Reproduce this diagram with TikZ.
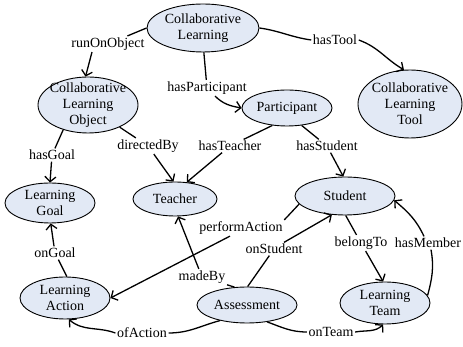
\documentclass[tikz,border=0pt]{standalone}
\usepackage{fontspec}
\setmainfont{Liberation Serif}
\usetikzlibrary{shapes.geometric,arrows.meta}
\definecolor{classfill}{RGB}{226,233,245}
\begin{document}
\begin{tikzpicture}[x=1pt,y=1pt,
  txt/.style={font=\fontsize{14}{16}\selectfont},
  cls/.style={ellipse,draw=black,line width=0.9pt,fill=classfill,inner sep=0pt},
  clstext/.style={txt,align=center,inner sep=0pt},
  rel/.style={txt,inner sep=1.5pt},
  link/.style={line width=1.3pt},
  arr/.style={link,-{Straight Barb[length=5pt,width=11pt,line width=1.3pt]}}]
\useasboundingbox (0,0) rectangle (463,347);

% classes
\node[cls,minimum width=112pt,minimum height=48pt,label={[clstext]center:Collaborative\\Learning}] (CL) at (203,319) {};
\node[cls,minimum width=100pt,minimum height=56pt,label={[clstext]center:Collaborative\\Learning\\Object}] (CLO) at (88,242) {};
\node[cls,minimum width=90pt,minimum height=36pt,label={[clstext]center:Participant}] (Part) at (287,239) {};
\node[cls,minimum width=104pt,minimum height=68pt,label={[clstext]center:Collaborative\\Learning\\Tool}] (CLT) at (410,243) {};
\node[cls,minimum width=90pt,minimum height=40pt,label={[clstext]center:Learning\\Goal}] (LG) at (50,144) {};
\node[cls,minimum width=84pt,minimum height=34pt,label={[clstext]center:Teacher}] (Teacher) at (175,148) {};
\node[cls,minimum width=100pt,minimum height=38pt,label={[clstext]center:Student}] (Student) at (345,151) {};
\node[cls,minimum width=90pt,minimum height=42pt,label={[clstext]center:Learning\\Action}] (LA) at (65,49) {};
\node[cls,minimum width=100pt,minimum height=36pt,label={[clstext]center:Assessment}] (Assess) at (247,42) {};
\node[cls,minimum width=90pt,minimum height=42pt,label={[clstext]center:Learning\\Team}] (LT) at (385,44) {};

% relation labels
\node[rel] (roo) at (108,303) {runOnObject};
\node[rel] (hp) at (207,259) {hasParticipant};
\node[rel] (ht) at (335,307) {hasTool};
\node[rel] (hg) at (52,192) {hasGoal};
\node[rel] (db) at (148,201) {directedBy};
\node[rel] (hte) at (230,201) {hasTeacher};
\node[rel] (hs) at (327,201) {hasStudent};
\node[rel] (og) at (55,94) {onGoal};
\node[rel] (pa) at (241,119) {performAction};
\node[rel] (os) at (274,98) {onStudent};
\node[rel] (mb) at (202,70) {madeBy};
\node[rel] (bt) at (361,104) {belongTo};
\node[rel] (hm) at (428,104) {hasMember};
\node[rel] (oa) at (142,14) {ofAction};
\node[rel] (ot) at (331,15) {onTeam};

% relations
\draw[link] (CL.west) -- (roo);
\draw[arr] ([xshift=-16pt]roo.south) -- (CLO.95);

\draw[link] (CL.-88) -- (hp);
\draw[arr] ([xshift=8pt]hp.south) to[out=-45,in=170] (Part.west);

\draw[link] (CL.east) to[out=-8,in=172] (ht.west);
\draw[arr] (ht.east) to[out=-20,in=150] (CLT.100);

\draw[link] (CLO.225) -- (hg);
\draw[arr] (hg) -- (LG.north);

\draw[link] (CLO.-35) -- (db);
\draw[arr] (db) -- (Teacher.95);

\draw[link] (Part.-130) -- (hte);
\draw[arr] (hte) -- (Teacher.55);

\draw[link] (Part.-50) -- (hs);
\draw[arr] (hs) -- (Student.95);

\draw[link] (LA.85) -- (og);
\draw[arr] (og) -- (LG.-88);

\draw[link] (Student.190) -- (pa.north east);
\draw[arr] ([xshift=-11pt]pa.south) -- (LA.east);

\draw[link] (Assess.88) -- (os);
\draw[arr] ([xshift=10pt]os.north) -- (Student.-125);

\draw[link] (Assess.125) -- (mb);
\draw[arr] (mb) -- (Teacher.-80);

\draw[link] (Student.-88) -- (bt);
\draw[arr] (bt) -- (LT.95);

\draw[link] (LT.10) to[out=75,in=-80] ([xshift=3pt]hm.south);
\draw[arr] ([xshift=-4pt]hm.north) to[out=115,in=-40] (Student.-5);

\draw[link] (Assess.-150) to[out=-165,in=0] (oa.east);
\draw[arr] (oa.west) to[out=160,in=-40] (LA.-80);

\draw[link] (Assess.-40) to[out=-20,in=180] (ot.west);
\draw[arr] (ot.east) to[out=10,in=-135] (LT.-95);
\end{tikzpicture}
\end{document}
